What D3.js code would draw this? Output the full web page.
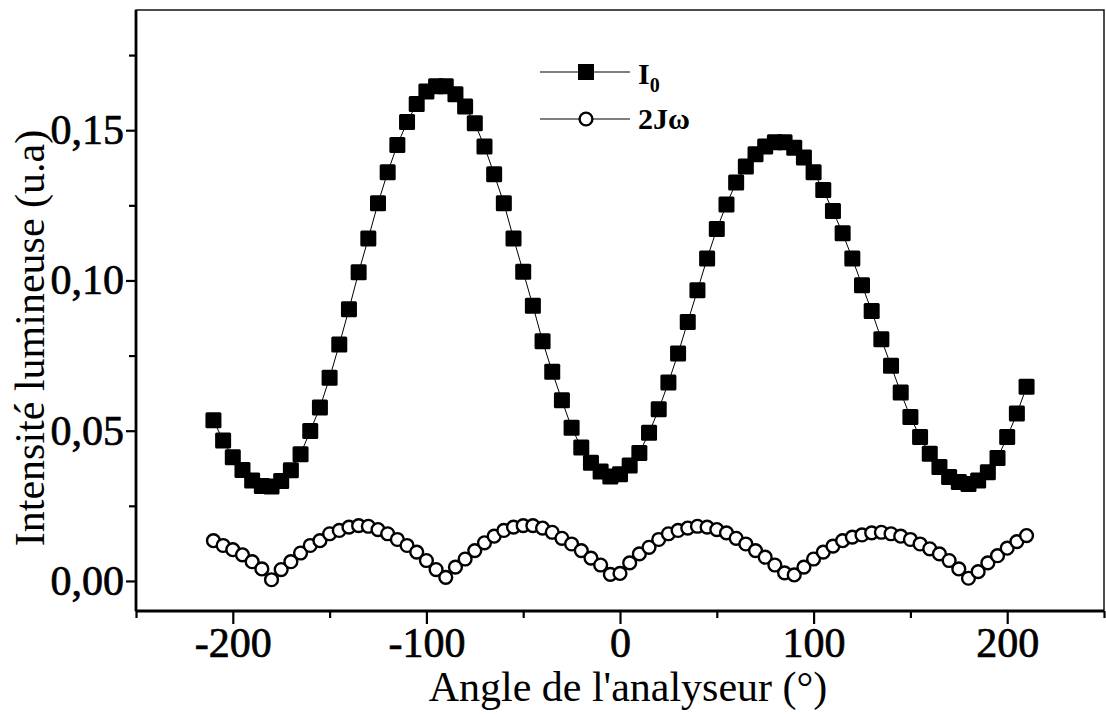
<!DOCTYPE html>
<html>
<head>
<meta charset="utf-8">
<script src="https://cdn.jsdelivr.net/npm/d3@7"></script>
<style>
  body { margin: 0; background: #fff; }
  svg { display: block; }
</style>
</head>
<body>
<svg id="chart"></svg>
<script>
// angle de l'analyseur (deg)
const angles = [-210, -205, -200, -195, -190, -185, -180, -175, -170, -165, -160, -155, -150, -145, -140, -135, -130, -125, -120, -115, -110, -105, -100, -95, -90, -85, -80, -75, -70, -65, -60, -55, -50, -45, -40, -35, -30, -25, -20, -15, -10, -5, 0, 5, 10, 15, 20, 25, 30, 35, 40, 45, 50, 55, 60, 65, 70, 75, 80, 85, 90, 95, 100, 105, 110, 115, 120, 125, 130, 135, 140, 145, 150, 155, 160, 165, 170, 175, 180, 185, 190, 195, 200, 205, 210]

// I0 (carres pleins)
const i0 = [0.0535, 0.0467, 0.0412, 0.0369, 0.0334, 0.0316, 0.0314, 0.0333, 0.0368, 0.0422,
  0.0499, 0.0577, 0.0676, 0.0787, 0.0904, 0.1027, 0.1140, 0.1257, 0.1360, 0.1451,
  0.1527, 0.1587, 0.1629, 0.1646, 0.1646, 0.1620, 0.1579, 0.1523, 0.1446, 0.1353,
  0.1257, 0.1140, 0.1029, 0.0916, 0.0798, 0.0696, 0.0601, 0.0510, 0.0444, 0.0393,
  0.0364, 0.0348, 0.0355, 0.0384, 0.0426, 0.0493, 0.0571, 0.0660, 0.0757, 0.0862,
  0.0967, 0.1073, 0.1171, 0.1253, 0.1326, 0.1379, 0.1420, 0.1446, 0.1460, 0.1460,
  0.1442, 0.1409, 0.1360, 0.1301, 0.1231, 0.1157, 0.1073, 0.0984, 0.0898, 0.0804,
  0.0716, 0.0627, 0.0546, 0.0479, 0.0423, 0.0379, 0.0346, 0.0329, 0.0323, 0.0334,
  0.0362, 0.0409, 0.0479, 0.0557, 0.0646]

// 2J omega (cercles vides)
const j2w = [0.0134, 0.0118, 0.0104, 0.0087, 0.0064, 0.0040, 0.0004, 0.0038, 0.0064, 0.0093,
  0.0118, 0.0134, 0.0157, 0.0168, 0.0179, 0.0184, 0.0182, 0.0171, 0.0157, 0.0138,
  0.0118, 0.0096, 0.0068, 0.0038, 0.0012, 0.0046, 0.0073, 0.0101, 0.0127, 0.0149,
  0.0168, 0.0179, 0.0184, 0.0184, 0.0176, 0.0162, 0.0142, 0.0123, 0.0101, 0.0076,
  0.0053, 0.0022, 0.0025, 0.0060, 0.0090, 0.0112, 0.0138, 0.0157, 0.0168, 0.0176,
  0.0182, 0.0179, 0.0171, 0.0160, 0.0142, 0.0123, 0.0101, 0.0079, 0.0053, 0.0027,
  0.0020, 0.0046, 0.0073, 0.0096, 0.0116, 0.0134, 0.0146, 0.0153, 0.0160, 0.0162,
  0.0157, 0.0149, 0.0138, 0.0123, 0.0107, 0.0090, 0.0068, 0.0040, 0.0009, 0.0031,
  0.0060, 0.0084, 0.0109, 0.0131, 0.0151]

const xTicks = [-200, -100, 0, 100, 200]
const xMinor = [-250, -150, -50, 50, 150, 250]
const yTicks = [0, 0.05, 0.10, 0.15]
const yMinor = [0.025, 0.075, 0.125, 0.175]

let svgWidth = 1106
let svgHeight = 715
let margin = { left: 136, right: 2, top: 10, bottom: 104 }
let chartWidth = svgWidth - margin.left - margin.right
let chartHeight = svgHeight - margin.top - margin.bottom

const font = "'Liberation Serif', 'Times New Roman', serif"

const svg = d3.select("#chart")
  .attr("width", svgWidth)
  .attr("height", svgHeight)

const x = d3.scaleLinear().domain([-250, 250]).range([0, chartWidth])
const y = d3.scaleLinear().domain([-0.01, 0.19]).range([chartHeight, 0])

const g = svg.append("g")
  .attr("transform", `translate(${margin.left}, ${margin.top})`)

// axes (major + minor)
function styleAxis(ax, size) {
  ax.select(".domain").remove()
  ax.selectAll("line").attr("stroke", "#000").attr("stroke-width", 2.2)
  ax.selectAll("text")
    .style("font-family", font)
    .style("font-size", size + "px")
    .attr("fill", "#000")
    .attr("stroke", "#000")
    .attr("stroke-width", 0.7)
}

const fmtY = d => d3.format(".2f")(d).replace(".", ",")

const xAxis = g.append("g")
  .attr("transform", `translate(0, ${chartHeight})`)
  .call(d3.axisBottom(x).tickValues(xTicks).tickSize(13).tickPadding(3).tickFormat(d => String(d)))
styleAxis(xAxis, 42)

g.append("g")
  .attr("transform", `translate(0, ${chartHeight})`)
  .call(d3.axisBottom(x).tickValues(xMinor).tickSize(7).tickFormat(""))
  .call(a => a.select(".domain").remove())
  .selectAll("line").attr("stroke", "#000").attr("stroke-width", 2.2)

const yAxis = g.append("g")
  .call(d3.axisLeft(y).tickValues(yTicks).tickSize(10).tickPadding(2).tickFormat(fmtY))
styleAxis(yAxis, 42)

g.append("g")
  .call(d3.axisLeft(y).tickValues(yMinor).tickSize(7).tickFormat(""))
  .call(a => a.select(".domain").remove())
  .selectAll("line").attr("stroke", "#000").attr("stroke-width", 2.2)

// cadre
g.append("rect")
  .attr("x", 0).attr("y", 0)
  .attr("width", chartWidth).attr("height", chartHeight)
  .attr("fill", "none").attr("stroke", "#000").attr("stroke-width", 1.4)
g.append("line")
  .attr("x1", 0).attr("x2", chartWidth).attr("y1", chartHeight).attr("y2", chartHeight)
  .attr("stroke", "#000").attr("stroke-width", 2.8)
g.append("line")
  .attr("x1", 0).attr("x2", 0).attr("y1", 0).attr("y2", chartHeight)
  .attr("stroke", "#000").attr("stroke-width", 2.8)

const seriesI0 = angles.map((a, i) => ({ a: a, v: i0[i] }))
const seriesJ = angles.map((a, i) => ({ a: a, v: j2w[i] }))

const line = d3.line().x(d => x(d.a)).y(d => y(d.v))

g.append("path").datum(seriesI0)
  .attr("d", line).attr("fill", "none").attr("stroke", "#000").attr("stroke-width", 1)
g.append("path").datum(seriesJ)
  .attr("d", line).attr("fill", "none").attr("stroke", "#000").attr("stroke-width", 1)

let sq = 16
g.append("g").selectAll("rect")
  .data(seriesI0)
  .enter()
  .append("rect")
  .attr("x", d => x(d.a) - sq / 2)
  .attr("y", d => y(d.v) - sq / 2)
  .attr("width", sq).attr("height", sq)
  .attr("rx", 1.5)
  .attr("fill", "#000")

g.append("g").selectAll("circle")
  .data(seriesJ)
  .enter()
  .append("circle")
  .attr("cx", d => x(d.a))
  .attr("cy", d => y(d.v))
  .attr("r", 6.4)
  .attr("fill", "#fff")
  .attr("stroke", "#000")
  .attr("stroke-width", 2.4)

// legende
const legend = svg.append("g")
legend.append("line").attr("x1", 540).attr("x2", 630).attr("y1", 72).attr("y2", 72)
  .attr("stroke", "#000").attr("stroke-width", 1.2)
legend.append("rect").attr("x", 586 - 8).attr("y", 72 - 8).attr("width", 16).attr("height", 16)
  .attr("fill", "#000")
legend.append("line").attr("x1", 540).attr("x2", 630).attr("y1", 119).attr("y2", 119)
  .attr("stroke", "#000").attr("stroke-width", 1.2)
legend.append("circle").attr("cx", 586).attr("cy", 119).attr("r", 6.4)
  .attr("fill", "#fff").attr("stroke", "#000").attr("stroke-width", 2.4)

const t1 = legend.append("text")
  .attr("x", 638).attr("y", 84)
  .style("font-family", font).style("font-size", "30px").style("font-weight", "bold")
t1.append("tspan").text("I")
t1.append("tspan").attr("dy", 8).style("font-size", "20px").text("0")

legend.append("text")
  .attr("x", 638).attr("y", 129)
  .style("font-family", font).style("font-size", "30px").style("font-weight", "bold")
  .text("2Jω")

// titres des axes
svg.append("text")
  .attr("x", margin.left + chartWidth / 2 + 8)
  .attr("y", 701)
  .attr("text-anchor", "middle")
  .style("font-family", font)
  .style("font-size", "42px")
  .text("Angle de l'analyseur (°)")

svg.append("text")
  .attr("transform", `translate(44, 338) rotate(-90)`)
  .attr("text-anchor", "middle")
  .style("font-family", font)
  .style("font-size", "42px")
  .text("Intensité lumineuse (u.a)")
</script>
</body>
</html>
